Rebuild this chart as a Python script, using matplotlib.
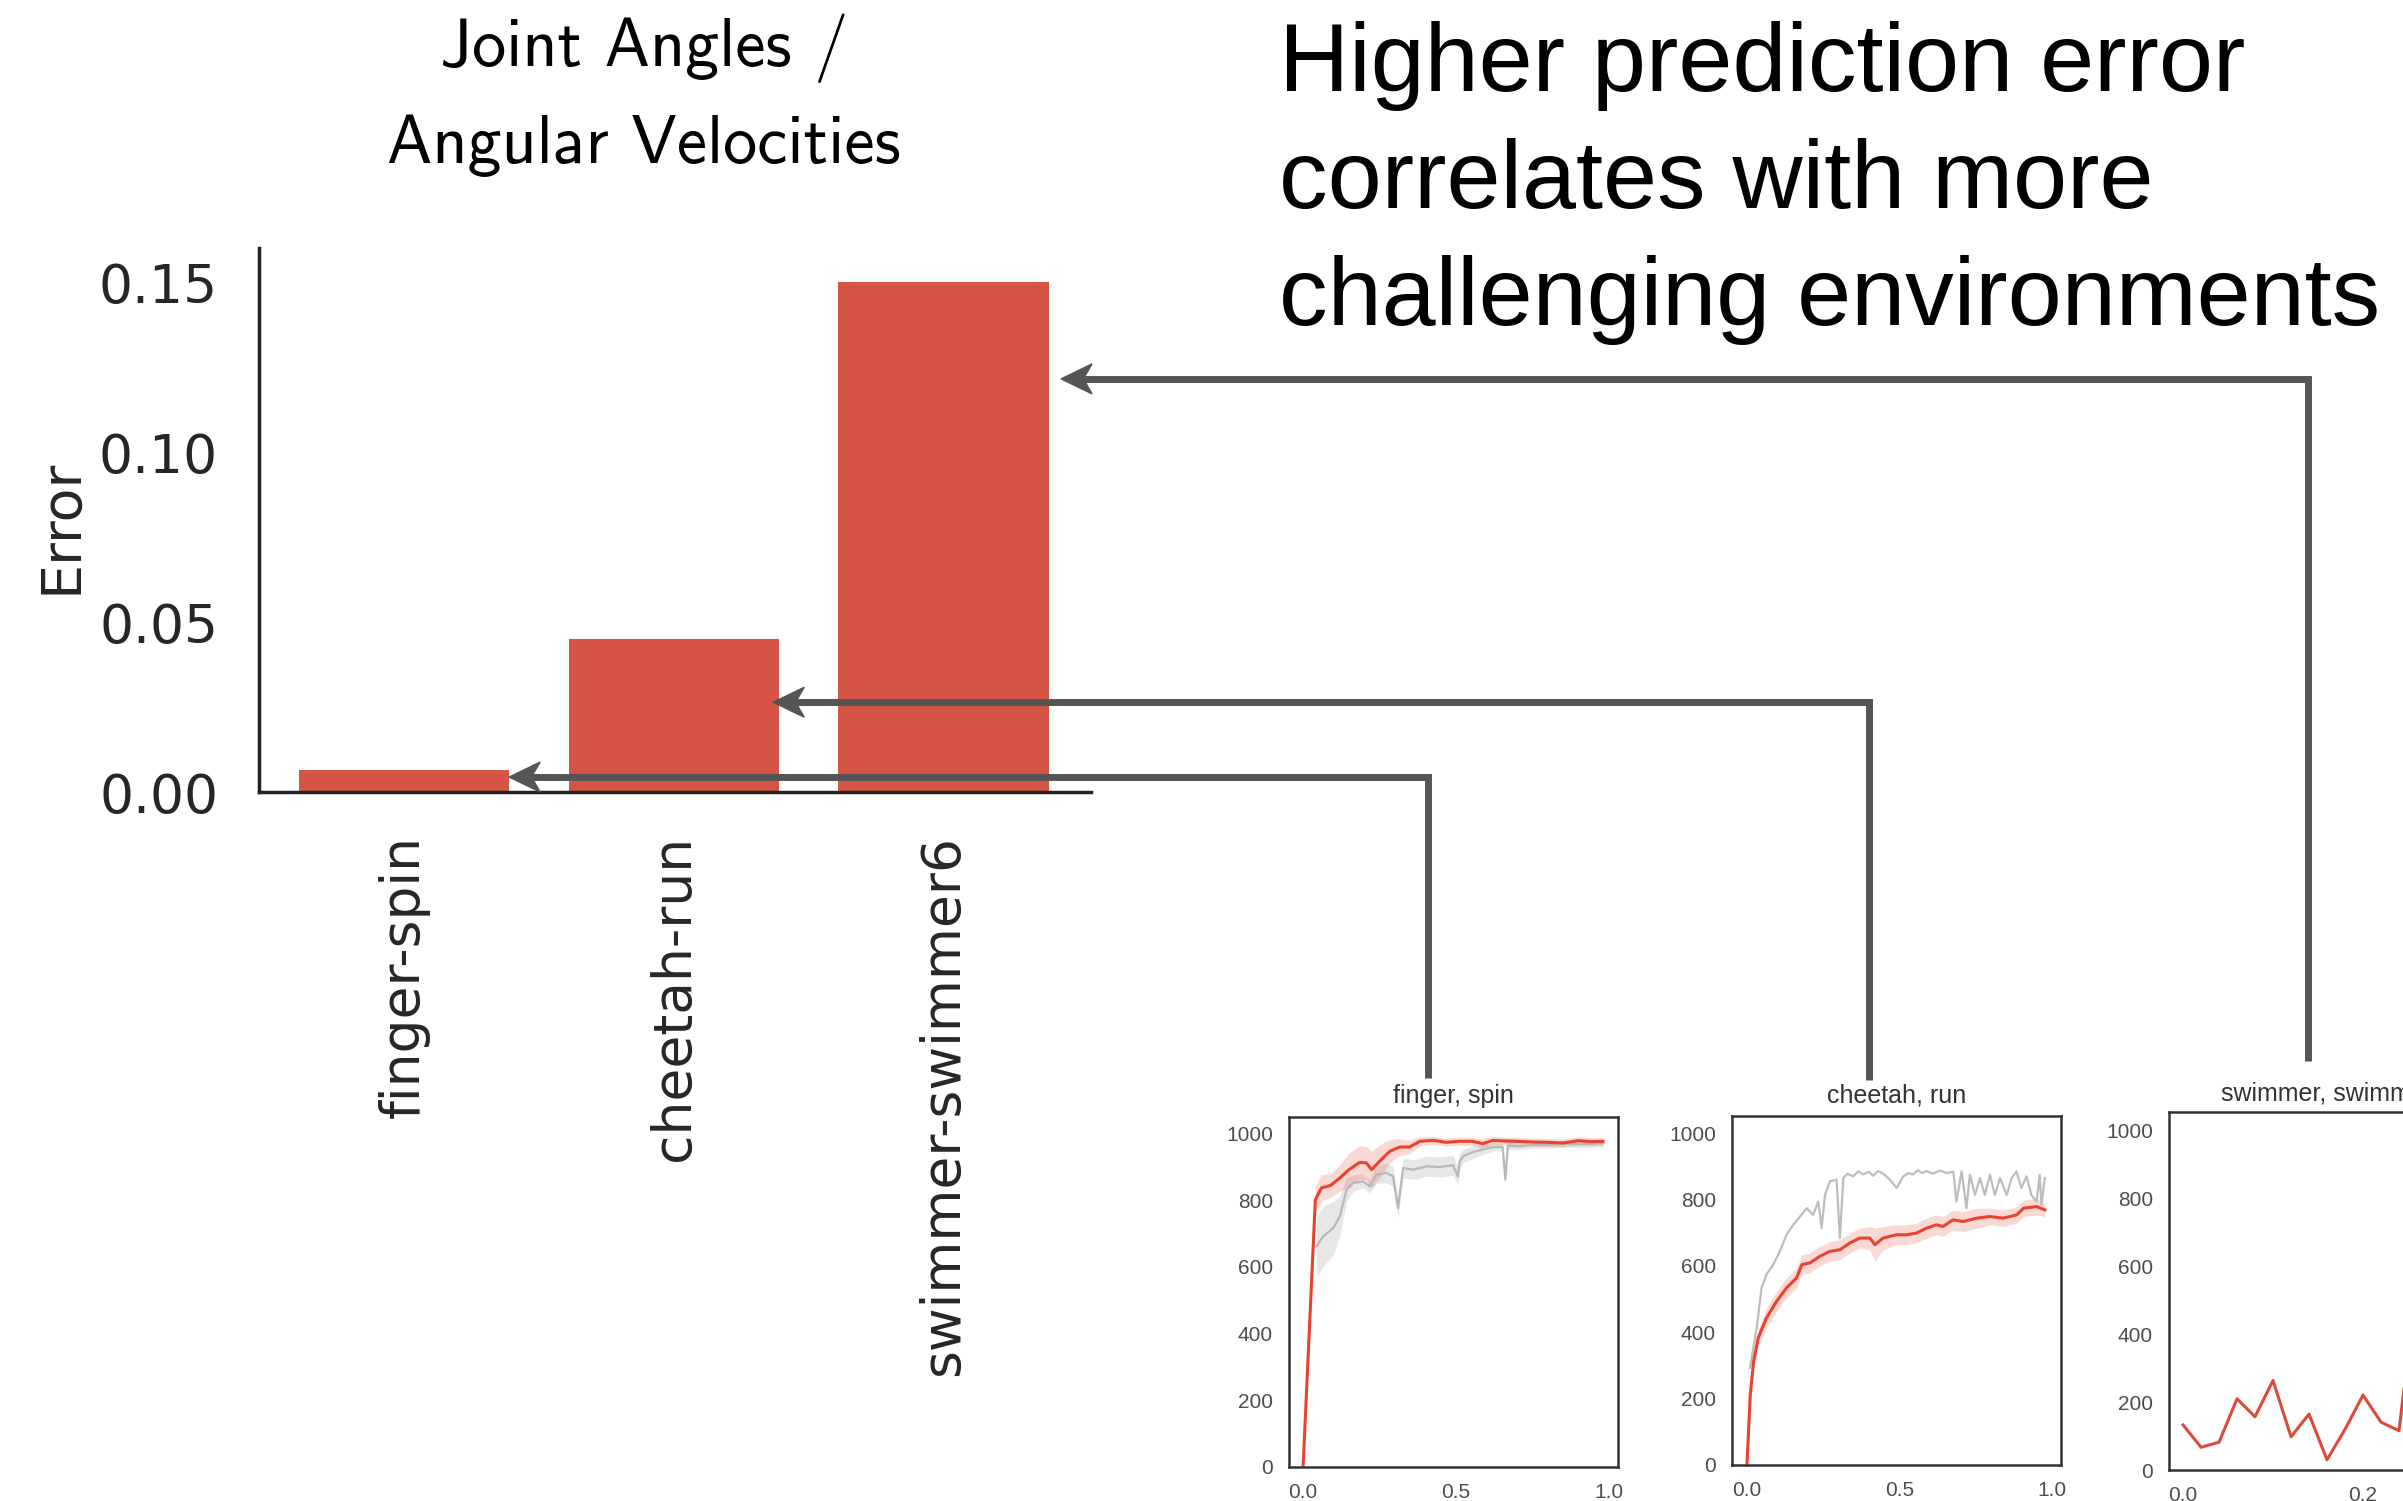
import numpy as np
import matplotlib
matplotlib.use("Agg")
import matplotlib.pyplot as plt
from matplotlib.patches import Polygon

W, H, DPI = 2403, 1501, 100

# ---- bar chart: prediction error per environment ----
tasks = ["finger-spin", "cheetah-run", "swimmer-swimmer6"]
errors = [0.0065, 0.0450, 0.1500]
error_ticks = [0.00, 0.05, 0.10, 0.15]

# ---- learning curves (x: fraction of training, y: episode return) ----
finger_red_x = [0.0, 0.04, 0.06, 0.09, 0.12, 0.15, 0.185, 0.207, 0.224, 0.25,
                0.283, 0.316, 0.348, 0.381, 0.425, 0.468, 0.511, 0.554, 0.587, 0.62,
                0.66, 0.70, 0.75, 0.80, 0.85, 0.90, 0.94, 0.98]
finger_red_y = [0, 802, 837, 845, 867, 892, 914, 912, 892, 917,
                947, 960, 960, 977, 980, 974, 977, 977, 970, 980,
                978, 977, 975, 974, 972, 979, 976, 977]
finger_red_sd = [0, 40, 40, 35, 40, 50, 50, 50, 55, 50,
                 35, 25, 20, 15, 12, 12, 12, 12, 15, 12,
                 12, 12, 12, 12, 12, 12, 12, 12]
finger_gray_x = [0.044, 0.066, 0.099, 0.12, 0.142, 0.164, 0.196, 0.218, 0.24, 0.272,
                 0.294, 0.31, 0.327, 0.36, 0.403, 0.446, 0.49, 0.506, 0.511, 0.522,
                 0.555, 0.587, 0.62, 0.652, 0.661, 0.669, 0.707, 0.75, 0.805, 0.86,
                 0.913, 0.981]
finger_gray_y = [662, 692, 717, 752, 832, 852, 857, 842, 877, 882,
                 872, 777, 897, 892, 902, 900, 905, 872, 915, 932,
                 945, 952, 960, 960, 862, 964, 962, 966, 966, 970,
                 968, 972]
finger_gray_sd = [90, 90, 80, 60, 35, 25, 20, 20, 25, 30,
                  30, 30, 30, 30, 30, 30, 30, 25, 25, 20,
                  20, 15, 12, 12, 12, 12, 10, 10, 10, 10,
                  10, 10]

cheetah_red_x = [0.0, 0.011, 0.022, 0.037, 0.064, 0.097, 0.13, 0.163, 0.18, 0.206,
                 0.239, 0.272, 0.305, 0.337, 0.37, 0.403, 0.42, 0.446, 0.49, 0.523,
                 0.556, 0.589, 0.621, 0.643, 0.676, 0.709, 0.753, 0.797, 0.84, 0.885,
                 0.907, 0.95, 0.977]
cheetah_red_y = [0, 213, 313, 383, 443, 493, 534, 564, 604, 609,
                 629, 644, 649, 669, 684, 684, 664, 684, 694, 694,
                 699, 714, 724, 719, 739, 734, 744, 749, 744, 754,
                 774, 779, 769]
cheetah_red_sd = [0, 20, 25, 25, 30, 30, 30, 30, 30, 30,
                  30, 30, 30, 30, 30, 35, 50, 35, 30, 30,
                  30, 30, 30, 30, 30, 30, 30, 25, 25, 25,
                  25, 25, 20]
cheetah_gray_x = [0.01, 0.032, 0.048, 0.064, 0.086, 0.108, 0.13, 0.152, 0.174, 0.196,
                  0.217, 0.234, 0.245, 0.256, 0.272, 0.294, 0.305, 0.316, 0.33, 0.348,
                  0.365, 0.381, 0.40, 0.414, 0.43, 0.447, 0.469, 0.491, 0.513, 0.53,
                  0.545, 0.56, 0.575, 0.589, 0.61, 0.633, 0.655, 0.677, 0.687, 0.704,
                  0.72, 0.731, 0.748, 0.764, 0.78, 0.797, 0.813, 0.83, 0.852, 0.868,
                  0.884, 0.9, 0.917, 0.933, 0.95, 0.96, 0.966, 0.977]
cheetah_gray_y = [293, 413, 534, 574, 604, 644, 694, 724, 749, 774,
                  754, 794, 714, 814, 855, 860, 684, 865, 878, 870,
                  885, 876, 884, 872, 886, 878, 860, 835, 870, 880,
                  876, 888, 880, 886, 878, 888, 880, 884, 794, 885,
                  774, 875, 814, 865, 814, 875, 814, 865, 814, 865,
                  885, 835, 870, 814, 794, 875, 784, 865]

swimmer_x = [0.0, 0.02, 0.04, 0.06, 0.08, 0.10, 0.12, 0.14, 0.16, 0.18, 0.20, 0.22, 0.24, 0.26]
swimmer_y = [133, 67, 82, 210, 157, 264, 98, 165, 30, 120, 221, 141, 116, 560]

BAR_RED = "#d65445"
LINE_RED = "#e8432f"
ARROW = "#555555"

fig = plt.figure(figsize=(W / DPI, H / DPI), dpi=DPI)
fig.patch.set_facecolor("white")


def px_rect(left, top, right, bottom):
    return [left / W, (H - bottom) / H, (right - left) / W, (bottom - top) / H]


# ---- main bar axes ----
ax = fig.add_axes(px_rect(259, 248, 1091, 792))
xpos = np.arange(len(tasks))
ax.bar(xpos, errors, width=0.78, color=BAR_RED, zorder=2)
ax.set_xlim(-0.5375, 2.547)
ax.set_ylim(0, 0.16)
ax.set_yticks(error_ticks)
ax.set_yticklabels([f"{v:.2f}" for v in error_ticks])
ax.set_xticks(xpos)
ax.set_xticklabels(tasks, rotation=90)
for s in ["top", "right"]:
    ax.spines[s].set_visible(False)
for s in ["left", "bottom"]:
    ax.spines[s].set_color("#222222")
    ax.spines[s].set_linewidth(2.5)
ax.tick_params(axis="y", length=0, pad=29.5, labelsize=38.5, labelcolor="#262626")
ax.tick_params(axis="x", length=0, pad=31, labelsize=38.5, labelcolor="#262626")
for lab in ax.get_xticklabels() + ax.get_yticklabels():
    lab.set_fontfamily("DejaVu Sans")

fig.text(61 / W, 1 - 526 / H, "Error", rotation=90, ha="center", va="center",
         fontsize=40, color="#262626", family="DejaVu Sans")

fig.text(644 / W, 1 - 66 / H, "Joint Angles /", ha="center", va="baseline",
         fontsize=49, family="cmss10", color="black")
fig.text(644 / W, 1 - 163 / H, "Angular Velocities", ha="center", va="baseline",
         fontsize=49, family="cmss10", color="black")

heading = ["Higher prediction error", "correlates with more", "challenging environments"]
for i, line in enumerate(heading):
    fig.text(1279 / W, 1 - (91 + 117 * i) / H, line, ha="left", va="baseline",
             fontsize=69.9, family="Liberation Sans", color="black")


# ---- learning-curve panels ----
def style_small(a, title, xticks, xlim, ylim, title_pad):
    a.set_xlim(*xlim)
    a.set_ylim(*ylim)
    a.set_xticks(xticks)
    a.set_xticklabels([f"{t:.1f}" for t in xticks])
    a.set_yticks([0, 200, 400, 600, 800, 1000])
    a.tick_params(length=0, pad=11.5, labelsize=15, labelcolor="#4d4d4d")
    for lab in a.get_xticklabels() + a.get_yticklabels():
        lab.set_fontfamily("Liberation Sans")
    for s in a.spines.values():
        s.set_color("#333333")
        s.set_linewidth(1.8)
    a.set_title(title, fontsize=18, family="Liberation Sans", color="#333333", pad=title_pad)


def band(a, x, y, sd, color, alpha):
    x = np.asarray(x, float)
    y = np.asarray(y, float)
    sd = np.asarray(sd, float)
    a.fill_between(x, y - sd, y + sd, color=color, alpha=alpha, lw=0)


ax_f = fig.add_axes(px_rect(1289, 1117, 1618, 1467))
band(ax_f, finger_gray_x, finger_gray_y, finger_gray_sd, "#bdbdbd", 0.35)
ax_f.plot(finger_gray_x, finger_gray_y, color="#b8b8b8", lw=1.6)
band(ax_f, finger_red_x, finger_red_y, finger_red_sd, LINE_RED, 0.2)
ax_f.plot(finger_red_x, finger_red_y, color=LINE_RED, lw=2.2)
style_small(ax_f, "finger, spin", [0.0, 0.5, 1.0], (-0.046, 1.029), (0, 1050), 10)

ax_c = fig.add_axes(px_rect(1732, 1116, 2061, 1465))
ax_c.plot(cheetah_gray_x, cheetah_gray_y, color="#bdbdbd", lw=1.6)
band(ax_c, cheetah_red_x, cheetah_red_y, cheetah_red_sd, LINE_RED, 0.2)
ax_c.plot(cheetah_red_x, cheetah_red_y, color=LINE_RED, lw=2.2)
style_small(ax_c, "cheetah, run", [0.0, 0.5, 1.0], (-0.049, 1.030), (0, 1052), 9.5)

ax_s = fig.add_axes(px_rect(2169, 1112, 2498, 1470))
ax_s.plot(swimmer_x, swimmer_y, color="#db4a3a", lw=2.2)
style_small(ax_s, "swimmer, swimmer6", [0.0, 0.2], (-0.0156, 0.35), (0, 1056), 8)

# ---- connector arrows from each panel to its bar ----
overlay = fig.add_axes([0, 0, 1, 1], zorder=10)
overlay.set_xlim(0, W)
overlay.set_ylim(0, H)
overlay.axis("off")
overlay.patch.set_visible(False)

arrow_sources = [(ax_f, 0.4225, 1.111), (ax_c, 0.416, 1.103), (ax_s, 0.4225, 1.142)]
arrow_targets = [(0.39, 0.0044), (1.369, 0.0264), (2.436, 0.1215)]
head_len, head_half = 31, 15

for (a_src, fx, fy), (tx, ty) in zip(arrow_sources, arrow_targets):
    sx, sy = a_src.transAxes.transform((fx, fy))
    ex, ey = ax.transData.transform((tx, ty))
    overlay.plot([sx, sx, ex + head_len * 0.6], [sy, ey, ey], color=ARROW, lw=5,
                 solid_joinstyle="miter", solid_capstyle="butt")
    head = Polygon([(ex, ey), (ex + head_len, ey + head_half),
                    (ex + head_len * 0.72, ey), (ex + head_len, ey - head_half)],
                   closed=True, facecolor=ARROW, edgecolor=ARROW, lw=1)
    overlay.add_patch(head)

fig.savefig("out.png", dpi=DPI, facecolor="white")
